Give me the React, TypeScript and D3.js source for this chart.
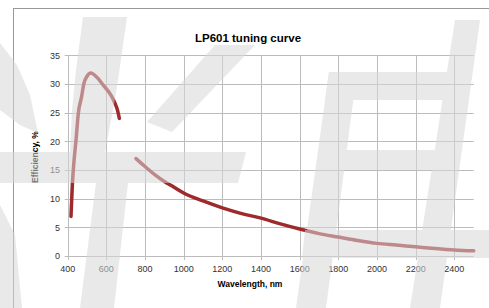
import React from 'react';
import * as d3 from 'd3';

// visible branch (nm, %)
const visWavelength = [417, 424, 433, 443, 455, 472, 484, 501, 519, 550, 584, 628, 645, 657, 667];
const visEfficiency = [6.9, 12.4, 16.7, 20.2, 24.9, 27.8, 30.1, 31.4, 31.9, 31.2, 29.8, 27.8, 26.6, 25.5, 24.0];

// IR branch (nm, %)
const irWavelength = [753, 800, 850, 900, 950, 1000, 1100, 1200, 1300, 1400, 1500, 1600, 1700, 1800, 1900, 2000, 2100, 2200, 2300, 2400, 2500];
const irEfficiency = [17.0, 15.6, 14.2, 13.0, 12.0, 11.0, 9.6, 8.4, 7.4, 6.6, 5.6, 4.7, 3.9, 3.3, 2.7, 2.2, 1.9, 1.6, 1.3, 1.05, 0.9];

const xTicks = [400, 600, 800, 1000, 1200, 1400, 1600, 1800, 2000, 2200, 2400];
const yTicks = [0, 5, 10, 15, 20, 25, 30, 35];

// faint watermark strokes lying over the chart
const watermark = [
  '0,43 17,65 30,95 38,133 20,125 0,110',
  '0,152 246,152 238,183 0,183',
  '83,17 127,17 118,80 113,110 105,152 70,152 72,110 76,70',
  '96,183 128,183 114,308 80,308',
  '215,45 255,45 172,132 147,122',
  '0,205 15,235 22,308 0,308',
  '329,72 357,72 326,308 296,308',
  '455,20 480,20 440,308 410,308',
  '329,72 460,72 456,100 325,100',
  '322,150 452,150 450,170 320,170',
  '305,230 489,230 489,258 302,258',
];

const W = 489;
const H = 308;
const font = '"Liberation Sans", Arial, sans-serif';

export default function App() {
  const x = d3.scaleLinear().domain([400, 2500]).range([67.7, 473.7]);
  const y = d3.scaleLinear().domain([0, 35]).range([256, 55.3]);

  const line = d3.line<[number, number]>()
    .x(d => x(d[0]))
    .y(d => y(d[1]))
    .curve(d3.curveMonotoneX);

  const visPts = visWavelength.map((w, i) => [w, visEfficiency[i]] as [number, number]);
  const irPts = irWavelength.map((w, i) => [w, irEfficiency[i]] as [number, number]);

  const snap = (v: number) => Math.round(v) + 0.5;
  const [x0, x1] = x.range();

  return (
    <svg width={W} height={H} style={{ position: 'absolute', left: 0, top: 0, background: '#fff' }}>
      {/* outer frame */}
      <line x1={13} x2={W} y1={8.5} y2={8.5} stroke="#999" />
      <line x1={13.5} x2={13.5} y1={8} y2={H} stroke="#999" />

      <text x={248} y={42} textAnchor="middle" fontFamily={font} fontWeight="bold" fontSize={11.5} fill="#000">
        LP601 tuning curve
      </text>

      {/* horizontal grid */}
      {yTicks.map(t => (
        <line key={'h' + t} x1={x0 - 3} x2={x1} y1={snap(y(t))} y2={snap(y(t))} stroke="#bcbcbc" />
      ))}
      {/* vertical grid */}
      {xTicks.map(t => (
        <line key={'v' + t} x1={snap(x(t))} x2={snap(x(t))} y1={y(35)} y2={y(0) + 4} stroke="#bcbcbc" />
      ))}

      {yTicks.map(t => (
        <text key={'yl' + t} x={60} y={y(t) + 3.2} textAnchor="end" fontFamily={font} fontSize={9} fill="#333">
          {t}
        </text>
      ))}
      {xTicks.map(t => (
        <text key={'xl' + t} x={x(t)} y={272} textAnchor="middle" fontFamily={font} fontSize={9} fill="#333">
          {t}
        </text>
      ))}

      <text x={250} y={287} textAnchor="middle" fontFamily={font} fontWeight="bold" fontSize={8.5} fill="#000">
        Wavelength, nm
      </text>
      <text transform="translate(38,157) rotate(-90)" textAnchor="middle" fontFamily={font} fontWeight="bold" fontSize={8.5} fill="#000">
        Efficiency, %
      </text>

      <path d={line(visPts) || ''} fill="none" stroke="#9e2a2b" strokeWidth={3.5} strokeLinecap="round" strokeLinejoin="round" />
      <path d={line(irPts) || ''} fill="none" stroke="#9e2a2b" strokeWidth={3.5} strokeLinecap="round" strokeLinejoin="round" />

      <g opacity={0.55}>
        {watermark.map((p, i) => (
          <polygon key={'wm' + i} points={p} fill="#d8d8d8" />
        ))}
      </g>
    </svg>
  );
}
